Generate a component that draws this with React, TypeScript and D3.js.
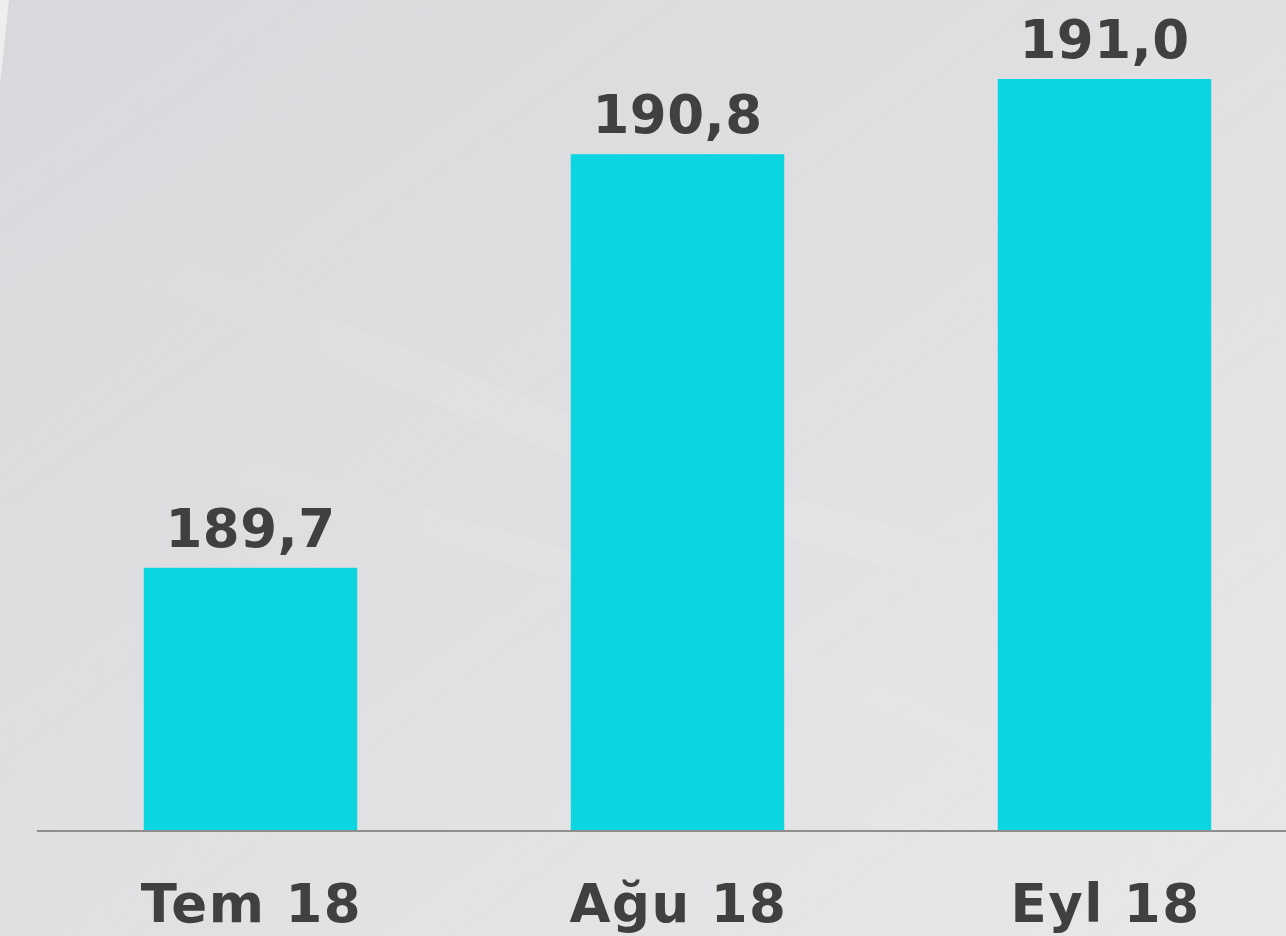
import React from "react";
import * as d3 from "d3";

const categories = ["Tem 18", "Ağu 18", "Eyl 18"];
const values = [189.7, 190.8, 191.0];
const valueLabels = ["189,7", "190,8", "191,0"];

const W = 1286;
const H = 936;

export default function App() {
  const x = d3
    .scaleBand<string>()
    .domain(categories)
    .range([37, 1318])
    .paddingInner(0.5)
    .paddingOuter(0.25);
  const y = d3.scaleLinear().domain([189, 191]).range([831, 79]);
  const font = "'DejaVu Sans', Verdana, sans-serif";
  const textColor = "#404040";

  return (
    <svg
      width={W}
      height={H}
      style={{ position: "absolute", left: 0, top: 0, display: "block" }}
    >
      <defs>
        <linearGradient id="bg" x1="0" y1="0" x2="1" y2="1">
          <stop offset="0" stopColor="#d8d9dc" />
          <stop offset="0.5" stopColor="#e0e0e2" />
          <stop offset="1" stopColor="#e8e8ea" />
        </linearGradient>
        <linearGradient id="streak" x1="0" y1="0" x2="1" y2="0">
          <stop offset="0" stopColor="#ffffff" stopOpacity="0" />
          <stop offset="0.5" stopColor="#ffffff" stopOpacity="0.18" />
          <stop offset="1" stopColor="#ffffff" stopOpacity="0" />
        </linearGradient>
      </defs>
      <rect x={0} y={0} width={W} height={H} fill="url(#bg)" />
      <polygon points="0,180 700,470 1286,640 1286,690 700,510 0,230" fill="url(#streak)" opacity={0.5} />
      <polygon points="0,380 600,560 1286,860 1286,890 600,590 0,420" fill="url(#streak)" opacity={0.4} />
      <polygon points="0,0 9,0 0,85" fill="#f2f2f3" opacity={0.8} />

      {categories.map((c, i) => (
        <rect
          key={c}
          x={x(c)}
          y={y(values[i])}
          width={x.bandwidth()}
          height={y(189) - y(values[i])}
          fill="#0bd5e0"
        />
      ))}

      <line x1={37} x2={W} y1={y(189)} y2={y(189)} stroke="#8e8e8e" strokeWidth={2} />

      {categories.map((c, i) => (
        <text
          key={"v" + c}
          x={(x(c) as number) + x.bandwidth() / 2}
          y={y(values[i]) - 21}
          textAnchor="middle"
          fontFamily={font}
          fontWeight="bold"
          fontSize={53}
          letterSpacing={0.5}
          fill={textColor}
        >
          {valueLabels[i]}
        </text>
      ))}

      {categories.map((c) => (
        <text
          key={"c" + c}
          x={(x(c) as number) + x.bandwidth() / 2 + 1}
          y={922}
          textAnchor="middle"
          fontFamily={font}
          fontWeight="bold"
          fontSize={53}
          letterSpacing={1.5}
          fill={textColor}
        >
          {c}
        </text>
      ))}
    </svg>
  );
}
